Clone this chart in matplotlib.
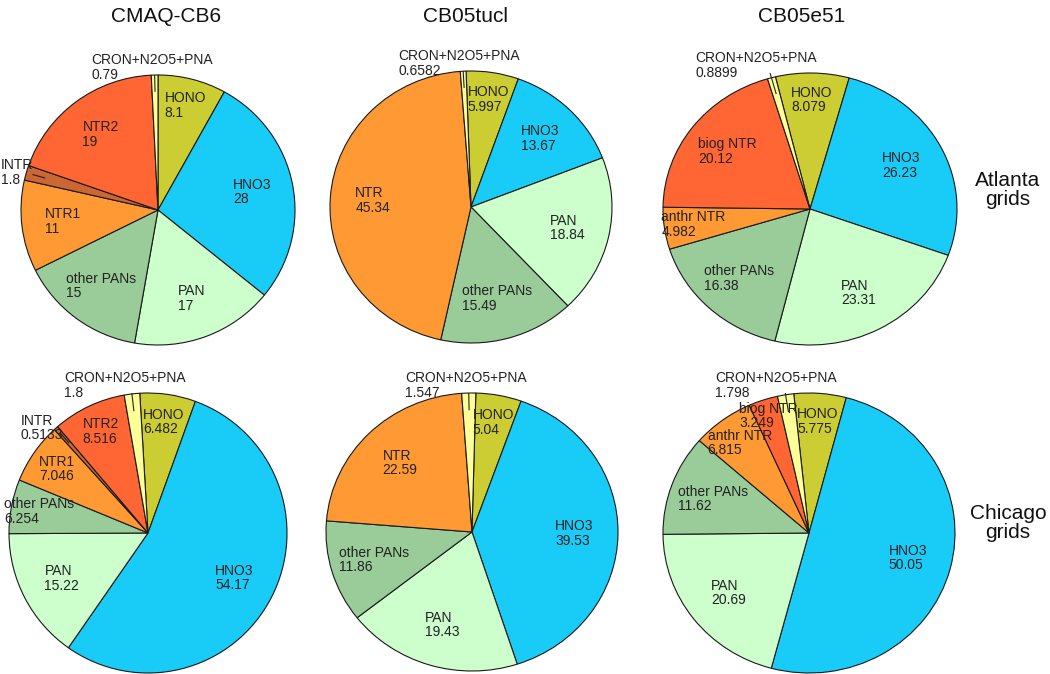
import numpy as np
import matplotlib
matplotlib.use("Agg")
import matplotlib.pyplot as plt

plt.rcParams['font.family'] = ['Liberation Sans', 'DejaVu Sans']

# ---------------- data ----------------
mechanisms = ["CMAQ-CB6", "CB05tucl", "CB05e51"]
regions = ["Atlanta\ngrids", "Chicago\ngrids"]

cb6_labels = ["HONO", "HNO3", "PAN", "other PANs", "NTR1", "INTR", "NTR2", "CRON+N2O5+PNA"]
cb6_atlanta = [8.1, 28, 17, 15, 11, 1.8, 19, 0.79]
cb6_chicago = [6.482, 54.17, 15.22, 6.254, 7.046, 0.5133, 8.516, 1.8]

tucl_labels = ["HONO", "HNO3", "PAN", "other PANs", "NTR", "CRON+N2O5+PNA"]
tucl_atlanta = [5.997, 13.67, 18.84, 15.49, 45.34, 0.6582]
tucl_chicago = [5.04, 39.53, 19.43, 11.86, 22.59, 1.547]

e51_labels = ["HONO", "HNO3", "PAN", "other PANs", "anthr NTR", "biog NTR", "CRON+N2O5+PNA"]
e51_atlanta = [8.079, 26.23, 23.31, 16.38, 4.982, 20.12, 0.8899]
e51_chicago = [5.775, 50.05, 20.69, 11.62, 6.815, 3.249, 1.798]

# ---------------- styles ----------------
species_colors = {
    "HONO": "#CCCC33", "HNO3": "#19CCF8", "PAN": "#CCFFCC", "other PANs": "#99CC99",
    "NTR1": "#FF9933", "NTR": "#FF9933", "anthr NTR": "#FF9933",
    "INTR": "#CC6633", "NTR2": "#FF6633", "biog NTR": "#FF6633",
    "CRON+N2O5+PNA": "#FFFF99",
}

W, H = 1050, 674
fig = plt.figure(figsize=(W / 100, H / 100), dpi=100)

# layout: (cx, cy, rx, ry) in pixels from top-left, and start angle of first slice
panels = [
    (cb6_labels, cb6_atlanta, (158, 210, 137, 135), 90.0),
    (tucl_labels, tucl_atlanta, (471, 207, 141, 136), 92.0),
    (e51_labels, e51_atlanta, (810, 209, 147, 136), 103.6),
    (cb6_labels, cb6_chicago, (148, 533, 139, 140), 93.4),
    (tucl_labels, tucl_chicago, (472, 532, 146, 139), 88.5),
    (e51_labels, e51_chicago, (809, 533, 146, 140), 96.0),
]

FS = 10
for labels, values, (cx, cy, rx, ry), start in panels:
    ax = fig.add_axes([(cx - rx) / W, 1 - (cy + ry) / H, 2 * rx / W, 2 * ry / H])
    colors = [species_colors[l] for l in labels]
    wedges, _ = ax.pie(values, colors=colors, startangle=start, counterclock=False,
                       radius=1.0, wedgeprops=dict(edgecolor="#1a1a1a", linewidth=0.8))
    ax.set_aspect('auto')
    ax.set_xlim(-1, 1)
    ax.set_ylim(-1, 1)
    ax.axis('off')
    total = sum(values)
    for w, lab, v in zip(wedges, labels, values):
        pct = 100 * v / total
        mid = np.deg2rad((w.theta1 + w.theta2) / 2)
        c, s = np.cos(mid), np.sin(mid)
        txt = f"{lab}\n{v:g}"
        if lab == "CRON+N2O5+PNA":
            ax.text(1.35 * c - 0.01, 0.95, txt, ha='center', va='bottom',
                    multialignment='left', fontsize=FS, linespacing=1.05, color='#222222')
            ax.plot([0.88 * c, 1.04 * c], [0.88 * s, 1.04 * s], color='#222222', lw=0.8)
        elif pct < 2.5:
            ax.text(1.0 * c + 0.05, 1.0 * s, txt, ha='right', va='center',
                    multialignment='left', fontsize=FS, linespacing=1.05, color='#222222')
            ax.plot([0.86 * c, 0.95 * c], [0.86 * s, 0.95 * s], color='#222222', lw=0.8)
        else:
            frac = 0.7 if pct >= 10 else (0.8 if pct >= 4 else 0.88)
            ax.text(frac * c, frac * s, txt, ha='center', va='center',
                    multialignment='left', fontsize=FS, linespacing=1.05, color='#222222')

title_x = [166, 465, 802]
for name, x in zip(mechanisms, title_x):
    fig.text(x / W, 1 - 17 / H, name, ha='center', va='center', fontsize=15, color='#111111')

row_y = [190, 523]
for name, y in zip(regions, row_y):
    fig.text(1008 / W, 1 - y / H, name, ha='center', va='center', fontsize=15,
             linespacing=1.05, color='#111111')

fig.savefig("out.png", dpi=100, facecolor='white')
